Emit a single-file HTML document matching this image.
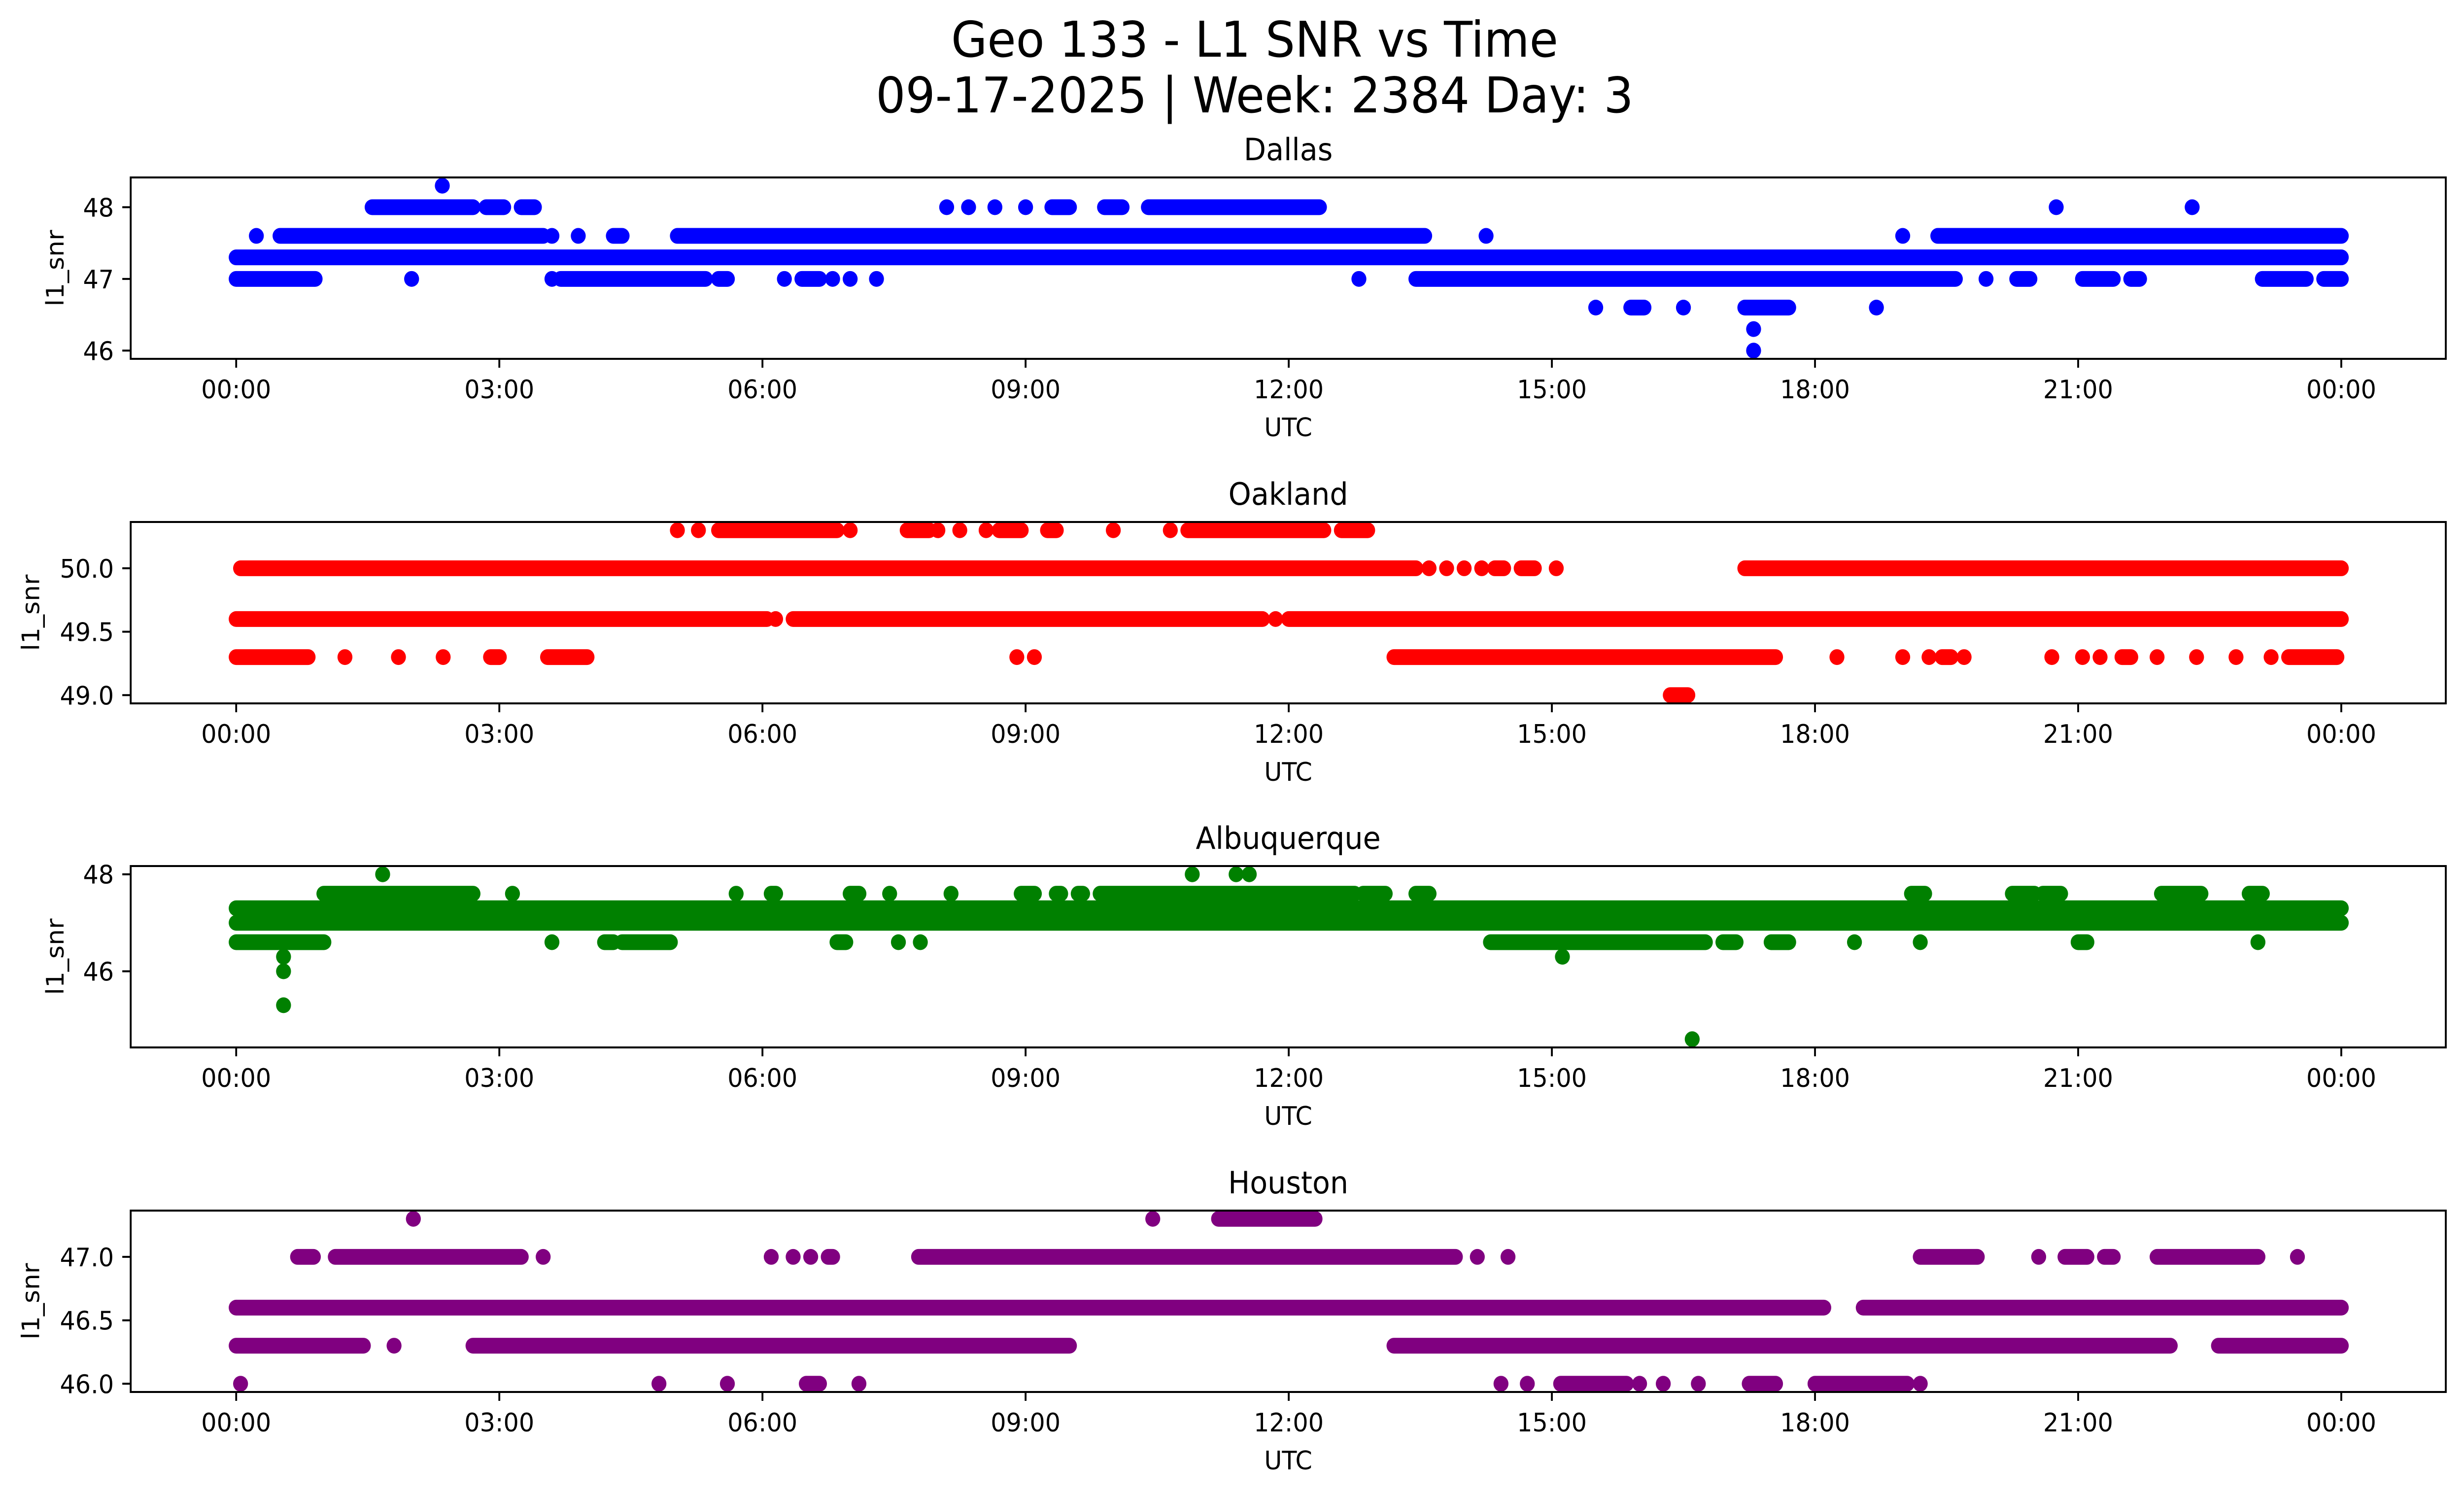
<!DOCTYPE html>
<html><head><meta charset="utf-8">
<style>
html,body{margin:0;padding:0;background:#fff;width:100%;height:100%;overflow:hidden;}
svg{display:block;font-family:"DejaVu Sans","Liberation Sans",sans-serif;width:100vw;height:100vh;}
</style></head>
<body>
<svg id="fig" viewBox="0 0 5279 3033" preserveAspectRatio="none" xmlns="http://www.w3.org/2000/svg">
<rect x="0" y="0" width="5279" height="3033" fill="#fff"/>
<text x="2688" y="115" font-size="100" text-anchor="middle">Geo 133 - L1 SNR vs Time</text>
<text x="2688" y="228" font-size="100" text-anchor="middle">09-17-2025 | Week: 2384 Day: 3</text>
</svg>
<script>
// x tick positions (hours) and labels
const xTickHours = [0,3,6,9,12,15,18,21,24];
const xTickLabels = ["00:00","03:00","06:00","09:00","12:00","15:00","18:00","21:00","00:00"];
const panelNames = ["Dallas","Oakland","Albuquerque","Houston"];
const panelColors = ["#0000ff","#ff0000","#008000","#800080"];
const yDomains = [[45.885,48.415],[48.935,50.365],[44.43,48.17],[45.935,47.365]];
const yTicks = [[46,47,48],[49.0,49.5,50.0],[46,48],[46.0,46.5,47.0]];
const yTickLabels = [["46","47","48"],["49.0","49.5","50.0"],["46","48"],["46.0","46.5","47.0"]];

// runs: [value, startHour, endHour]
const dallasRuns = [
 [48.3,2.35,2.35],
 [48.0,1.55,2.7],[48.0,2.85,3.05],[48.0,3.25,3.4],[48.0,8.1,8.1],[48.0,8.35,8.35],[48.0,8.65,8.65],[48.0,9.0,9.0],[48.0,9.3,9.5],[48.0,9.9,10.1],[48.0,10.4,12.35],[48.0,20.75,20.75],[48.0,22.3,22.3],
 [47.6,0.23,0.23],[47.6,0.5,3.5],[47.6,3.6,3.6],[47.6,3.9,3.9],[47.6,4.3,4.4],[47.6,5.03,13.55],[47.6,14.25,14.25],[47.6,19.0,19.0],[47.6,19.4,24],
 [47.3,0,24],
 [47.0,0,0.9],[47.0,2.0,2.0],[47.0,3.6,3.6],[47.0,3.7,5.35],[47.0,5.5,5.6],[47.0,6.25,6.25],[47.0,6.45,6.65],[47.0,6.8,6.8],[47.0,7.0,7.0],[47.0,7.3,7.3],[47.0,12.8,12.8],[47.0,13.45,19.6],[47.0,19.95,19.95],[47.0,20.3,20.45],[47.0,21.05,21.4],[47.0,21.6,21.7],[47.0,23.1,23.6],[47.0,23.8,24],
 [46.6,15.5,15.5],[46.6,15.9,16.05],[46.6,16.5,16.5],[46.6,17.2,17.7],[46.6,18.7,18.7],
 [46.3,17.3,17.3],[46.0,17.3,17.3]
];
const oaklandRuns = [
 [50.3,5.03,5.03],[50.3,5.27,5.27],[50.3,5.5,6.85],[50.3,7.0,7.0],[50.3,7.65,7.9],[50.3,8.0,8.0],[50.3,8.25,8.25],[50.3,8.55,8.55],[50.3,8.7,8.95],[50.3,9.25,9.35],[50.3,10.0,10.0],[50.3,10.65,10.65],[50.3,10.85,12.4],[50.3,12.6,12.9],
 [50.0,0.05,13.45],[50.0,13.6,13.6],[50.0,13.8,13.8],[50.0,14.0,14.0],[50.0,14.2,14.2],[50.0,14.35,14.45],[50.0,14.65,14.8],[50.0,15.05,15.05],[50.0,17.2,24],
 [49.6,0,6.05],[49.6,6.15,6.15],[49.6,6.35,11.7],[49.6,11.85,11.85],[49.6,12.0,24],
 [49.3,0,0.82],[49.3,1.24,1.24],[49.3,1.85,1.85],[49.3,2.36,2.36],[49.3,2.9,3.0],[49.3,3.55,4.0],[49.3,8.9,8.9],[49.3,9.1,9.1],[49.3,13.2,17.55],[49.3,18.25,18.25],[49.3,19.0,19.0],[49.3,19.3,19.3],[49.3,19.45,19.55],[49.3,19.7,19.7],[49.3,20.7,20.7],[49.3,21.05,21.05],[49.3,21.25,21.25],[49.3,21.5,21.6],[49.3,21.9,21.9],[49.3,22.35,22.35],[49.3,22.8,22.8],[49.3,23.2,23.2],[49.3,23.4,23.95],
 [49.0,16.35,16.55]
];
const albuquerqueRuns = [
 [48.0,1.67,1.67],[48.0,10.9,10.9],[48.0,11.4,11.4],[48.0,11.55,11.55],
 [47.6,1.0,2.7],[47.6,3.15,3.15],[47.6,5.7,5.7],[47.6,6.1,6.15],[47.6,7.0,7.1],[47.6,7.45,7.45],[47.6,8.15,8.15],[47.6,8.95,9.1],[47.6,9.35,9.4],[47.6,9.6,9.65],[47.6,9.85,12.75],[47.6,12.85,13.1],[47.6,13.45,13.6],[47.6,19.1,19.25],[47.6,20.25,20.5],[47.6,20.6,20.8],[47.6,21.95,22.4],[47.6,22.95,23.1],
 [47.3,0,24],
 [47.0,0,24],
 [46.6,0,1.0],[46.6,3.6,3.6],[46.6,4.2,4.3],[46.6,4.4,4.95],[46.6,6.85,6.95],[46.6,7.55,7.55],[46.6,7.8,7.8],[46.6,14.3,16.75],[46.6,16.95,17.1],[46.6,17.5,17.7],[46.6,18.45,18.45],[46.6,19.2,19.2],[46.6,21.0,21.1],[46.6,23.05,23.05],
 [46.3,0.54,0.54],[46.3,15.12,15.12],[46.0,0.54,0.54],[45.3,0.54,0.54],[44.6,16.6,16.6]
];
const houstonRuns = [
 [47.3,2.02,2.02],[47.3,10.45,10.45],[47.3,11.2,12.3],
 [47.0,0.7,0.88],[47.0,1.13,3.25],[47.0,3.5,3.5],[47.0,6.1,6.1],[47.0,6.35,6.35],[47.0,6.55,6.55],[47.0,6.75,6.8],[47.0,7.78,13.9],[47.0,14.15,14.15],[47.0,14.5,14.5],[47.0,19.2,19.85],[47.0,20.55,20.55],[47.0,20.85,21.1],[47.0,21.3,21.4],[47.0,21.9,23.05],[47.0,23.5,23.5],
 [46.6,0,18.1],[46.6,18.55,24],
 [46.3,0,1.45],[46.3,1.8,1.8],[46.3,2.7,9.5],[46.3,13.2,22.05],[46.3,22.6,24],
 [46.0,0.05,0.05],[46.0,4.82,4.82],[46.0,5.6,5.6],[46.0,6.5,6.65],[46.0,7.1,7.1],[46.0,14.42,14.42],[46.0,14.72,14.72],[46.0,15.1,15.85],[46.0,16.0,16.0],[46.0,16.27,16.27],[46.0,16.67,16.67],[46.0,17.25,17.55],[46.0,18.0,19.05],[46.0,19.2,19.2]
];
const allRuns = [dallasRuns, oaklandRuns, albuquerqueRuns, houstonRuns];

const NS = "http://www.w3.org/2000/svg";
const fig = document.getElementById('fig');
const AX_L = 280, AX_R = 5240, AX_H = 368;
const panelTops = [360,1059,1757,2456];
const X0 = 506, PX_PER_HR = 187.92, R = 16;
function xScale(h){ return X0 + h*PX_PER_HR; }
function mk(tag, attrs, parent){
  const e = document.createElementNS(NS, tag);
  for (const k in attrs) e.setAttribute(k, attrs[k]);
  (parent||fig).appendChild(e);
  return e;
}
for (let p=0; p<4; p++){
  const top = panelTops[p], bot = top + AX_H;
  const dom = yDomains[p];
  const yScale = v => bot - (v - dom[0])/(dom[1]-dom[0])*AX_H;
  const g = mk('g', {});
  
  
  const clipId = 'clip'+p;
  const cp = mk('clipPath', {id: clipId}, g);
  mk('rect', {x: AX_L, y: top, width: AX_R-AX_L, height: AX_H}, cp);
  const marks = mk('g', {'clip-path': 'url(#'+clipId+')', fill: panelColors[p], stroke: panelColors[p]}, g);
  
  
  allRuns[p].forEach(r => {
    const y = yScale(r[0]);
    let m;
    if (r[2] > r[1]) {
      m = mk('line', {x1: xScale(r[1]), x2: xScale(r[2]), y1: y, y2: y, 'stroke-width': 2*R, 'stroke-linecap': 'round'}, marks);
    } else {
      m = mk('circle', {cx: xScale(r[1]), cy: y, r: R, stroke: 'none'}, marks);
    }
    
    
  });
  const frame = mk('rect', {x: AX_L, y: top, width: AX_R-AX_L, height: AX_H, fill: 'none', stroke: '#000', 'stroke-width': 4}, g);
  
  
  xTickHours.forEach((h,i) => {
    const x = xScale(h);
    const t = mk('line', {x1: x, x2: x, y1: bot, y2: bot+18, stroke: '#000', 'stroke-width': 4}, g);
    
    
    const tl = mk('text', {x: x, y: bot+80, 'font-size': 52, 'text-anchor': 'middle'}, g);
    tl.textContent = xTickLabels[i];
    
    
  });
  yTicks[p].forEach((v,i) => {
    const y = yScale(v);
    const t = mk('line', {x1: AX_L-18, x2: AX_L, y1: y, y2: y, stroke: '#000', 'stroke-width': 4}, g);
    
    
    const tl = mk('text', {x: AX_L-36, y: y+19, 'font-size': 52, 'text-anchor': 'end'}, g);
    tl.textContent = yTickLabels[p][i];
    
    
  });
  const st = mk('text', {x: (AX_L+AX_R)/2, y: top-35, 'font-size': 62, 'text-anchor': 'middle'}, g);
  st.textContent = panelNames[p];
  
  
  const xl = mk('text', {x: (AX_L+AX_R)/2, y: bot+157, 'font-size': 52, 'text-anchor': 'middle'}, g);
  xl.textContent = 'UTC';
  
  
  const ylx = (p===0 || p===2) ? 136 : 84;
  const yc = top + AX_H/2;
  const yl = mk('text', {x: ylx, y: yc, 'font-size': 52, 'text-anchor': 'middle', transform: 'rotate(-90 '+ylx+' '+yc+')'}, g);
  yl.textContent = 'l1_snr';
  
  
}
</script>
</body></html>
